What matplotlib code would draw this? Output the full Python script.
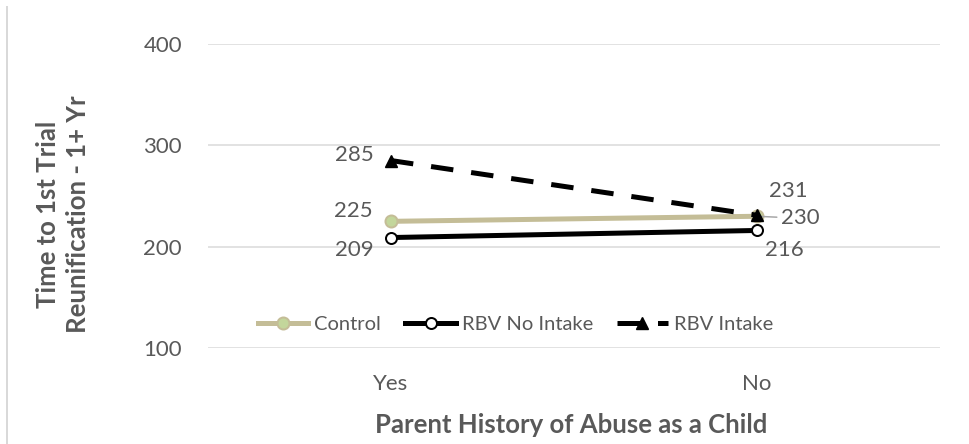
import matplotlib.pyplot as plt
from matplotlib.lines import Line2D

plt.rcParams['font.family'] = ['Lato', 'DejaVu Sans']

categories = ["Yes", "No"]
control = [225, 230]
rbv_no_intake = [209, 216]
rbv_intake = [285, 231]
y_ticks = [100, 200, 300, 400]

gray = "#595959"
px = 72 / 100  # points per pixel at dpi 100

fig = plt.figure(figsize=(9.69, 4.44), dpi=100)
ax = fig.add_axes([208 / 969, 1 - 348 / 444, 732 / 969, 304 / 444])

x = list(range(len(categories)))

ax.plot(x, control, color="#C4BD97", lw=5 * px, marker="o", ms=12 * px,
        mfc="#C3D69B", mec="#C4BD97", mew=2 * px, label="Control", zorder=3)
ax.plot(x, rbv_no_intake, color="black", lw=5 * px, marker="o", ms=11 * px,
        mfc="white", mec="black", mew=2 * px, label="RBV No Intake", zorder=3)
ax.plot(x, rbv_intake, color="black", lw=5 * px, ls=(0, (4.5, 3.6)), marker="^",
        ms=12 * px, mfc="black", mec="black", label="RBV Intake", zorder=4)

ax.set_xlim(-0.5, 1.5)
ax.set_ylim(100, 400)
ax.set_yticks(y_ticks)
ax.set_xticks(x)
ax.set_xticklabels(categories)
ax.grid(axis="y", color="#D9D9D9", lw=1.5 * px)
ax.set_axisbelow(True)
for s in ax.spines.values():
    s.set_visible(False)
ax.tick_params(length=0, labelsize=16, colors=gray)
ax.tick_params(axis="x", pad=26 * px)
ax.tick_params(axis="y", pad=26 * px)

fig.text(63 / 969, 1 - 214 / 444, "Time to 1st Trial\nReunification - 1+ Yr",
         rotation=90, ha="center", va="center", fontsize=18.5,
         fontweight="bold", color=gray, linespacing=1.3)
fig.text(571 / 969, 1 - 425 / 444, "Parent History of Abuse as a Child",
         ha="center", va="center", fontsize=18.5, fontweight="bold", color=gray)

# data labels (offsets in pixels)
lab_kw = dict(textcoords="offset points", fontsize=16, color=gray, va="center")
ax.annotate(str(rbv_intake[0]), (0, rbv_intake[0]), xytext=(-17 * px, 6 * px), ha="right", **lab_kw)
ax.annotate(str(control[0]), (0, control[0]), xytext=(-18 * px, 10 * px), ha="right", **lab_kw)
ax.annotate(str(rbv_no_intake[0]), (0, rbv_no_intake[0]), xytext=(-17 * px, -12 * px), ha="right", **lab_kw)
ax.annotate(str(rbv_intake[1]), (1, rbv_intake[1]), xytext=(12 * px, 24 * px), ha="left", **lab_kw)
ax.annotate(str(control[1]), (1, control[1]), xytext=(24 * px, -2 * px), ha="left",
            arrowprops=dict(arrowstyle="-", color="#A6A6A6", lw=1.5 * px,
                            shrinkA=1, shrinkB=2), **lab_kw)
ax.annotate(str(rbv_no_intake[1]), (1, rbv_no_intake[1]), xytext=(27 * px, -20 * px), ha="center", **lab_kw)

leg = ax.legend(loc="center", bbox_to_anchor=(0.42, 0.076), ncol=3, frameon=False,
                fontsize=14.5, handlelength=2.5, columnspacing=1.2, handletextpad=0.3)
for t in leg.get_texts():
    t.set_color(gray)

# chart area border on the left
fig.add_artist(Line2D([7 / 969, 7 / 969], [0, 1 - 7 / 444], color="#D9D9D9", lw=2 * px))

fig.savefig("out.png", dpi=100)
